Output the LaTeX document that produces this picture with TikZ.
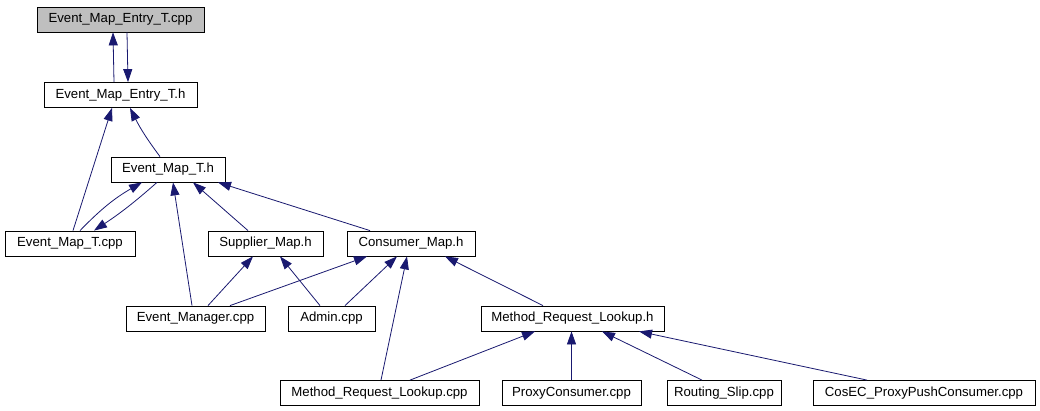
\documentclass[tikz,border=0pt]{standalone}
\usepackage{fontspec}
\setmainfont{Liberation Sans}
\usetikzlibrary{arrows.meta}
\definecolor{edgeblue}{HTML}{191970}
\definecolor{rootgrey}{HTML}{BFBFBF}

\begin{document}
\begin{tikzpicture}[x=1pt, y=-1pt,
  file/.style={draw, line width=0.8pt, minimum height=25pt, inner sep=0pt,
    font=\fontsize{13.2}{15}\selectfont},
  dep/.style={draw=edgeblue, line width=0.8pt,
    -{Triangle[length=13pt, width=9pt, fill=edgeblue]}}]
  \useasboundingbox (0,0) rectangle (1040,411);
  \fill[white] (0,0) rectangle (1040,411);

\node[file, fill=rootgrey, minimum width=167pt] (entrycpp) at (120.5,19.5) {Event\_Map\_Entry\_T.cpp};
\node[file, minimum width=153pt] (entryh) at (120.5,95) {Event\_Map\_Entry\_T.h};
\node[file, minimum width=114pt] (maph) at (168,169.5) {Event\_Map\_T.h};
\node[file, minimum width=130pt] (mapcpp) at (70,243.5) {Event\_Map\_T.cpp};
\node[file, minimum width=115pt] (supplier) at (265.5,243.5) {Supplier\_Map.h};
\node[file, minimum width=128pt] (consumer) at (411,243.5) {Consumer\_Map.h};
\node[file, minimum width=139pt] (manager) at (195.5,318.5) {Event\_Manager.cpp};
\node[file, minimum width=87pt] (admin) at (331.5,318.5) {Admin.cpp};
\node[file, minimum width=183pt] (lookuph) at (572.5,318.5) {Method\_Request\_Lookup.h};
\node[file, minimum width=199pt] (lookupcpp) at (379.5,393) {Method\_Request\_Lookup.cpp};
\node[file, minimum width=139pt] (proxy) at (571.5,393) {ProxyConsumer.cpp};
\node[file, minimum width=114pt] (routing) at (724,393) {Routing\_Slip.cpp};
\node[file, minimum width=222pt] (cosec) at (924,393) {CosEC\_ProxyPushConsumer.cpp};

\draw[dep] ([xshift=-6.5pt]entryh.north) -- ([xshift=-7.5pt]entrycpp.south);
\draw[dep] ([xshift=6.5pt]entrycpp.south) -- ([xshift=7.5pt]entryh.north);
\draw[dep] ([xshift=3pt]mapcpp.north) -- ([xshift=-8.5pt]entryh.south);
\draw[dep] ([xshift=-8pt]maph.north) to[bend left=5] ([xshift=9.5pt]entryh.south);
\draw[dep] ([xshift=10pt]mapcpp.north) to[bend left=8] ([xshift=-26pt]maph.south);
\draw[dep] ([xshift=-11pt]maph.south) to[bend left=4] ([xshift=24pt]mapcpp.north);
\draw[dep] ([xshift=-3.5pt]manager.north) -- ([xshift=5pt]maph.south);
\draw[dep] ([xshift=-17.5pt]supplier.north) -- ([xshift=25pt]maph.south);
\draw[dep] ([xshift=-41pt]consumer.north) -- ([xshift=50pt]maph.south);
\draw[dep] ([xshift=12.5pt]manager.north) -- ([xshift=-12.5pt]supplier.south);
\draw[dep] ([xshift=34.5pt]manager.north) -- ([xshift=-44pt]consumer.south);
\draw[dep] ([xshift=-11.5pt]admin.north) -- ([xshift=14.5pt]supplier.south);
\draw[dep] ([xshift=13.5pt]admin.north) -- ([xshift=-14pt]consumer.south);
\draw[dep] ([xshift=1.5pt]lookupcpp.north) -- ([xshift=-4pt]consumer.south);
\draw[dep] ([xshift=-29.5pt]lookuph.north) -- ([xshift=34pt]consumer.south);
\draw[dep] ([xshift=30.5pt]lookupcpp.north) -- ([xshift=-37.5pt]lookuph.south);
\draw[dep] (proxy.north) -- (proxy.north |- lookuph.south);
\draw[dep] ([xshift=-22pt]routing.north) -- ([xshift=29.5pt]lookuph.south);
\draw[dep] ([xshift=-57pt]cosec.north) -- ([xshift=66.5pt]lookuph.south);
\end{tikzpicture}
\end{document}
